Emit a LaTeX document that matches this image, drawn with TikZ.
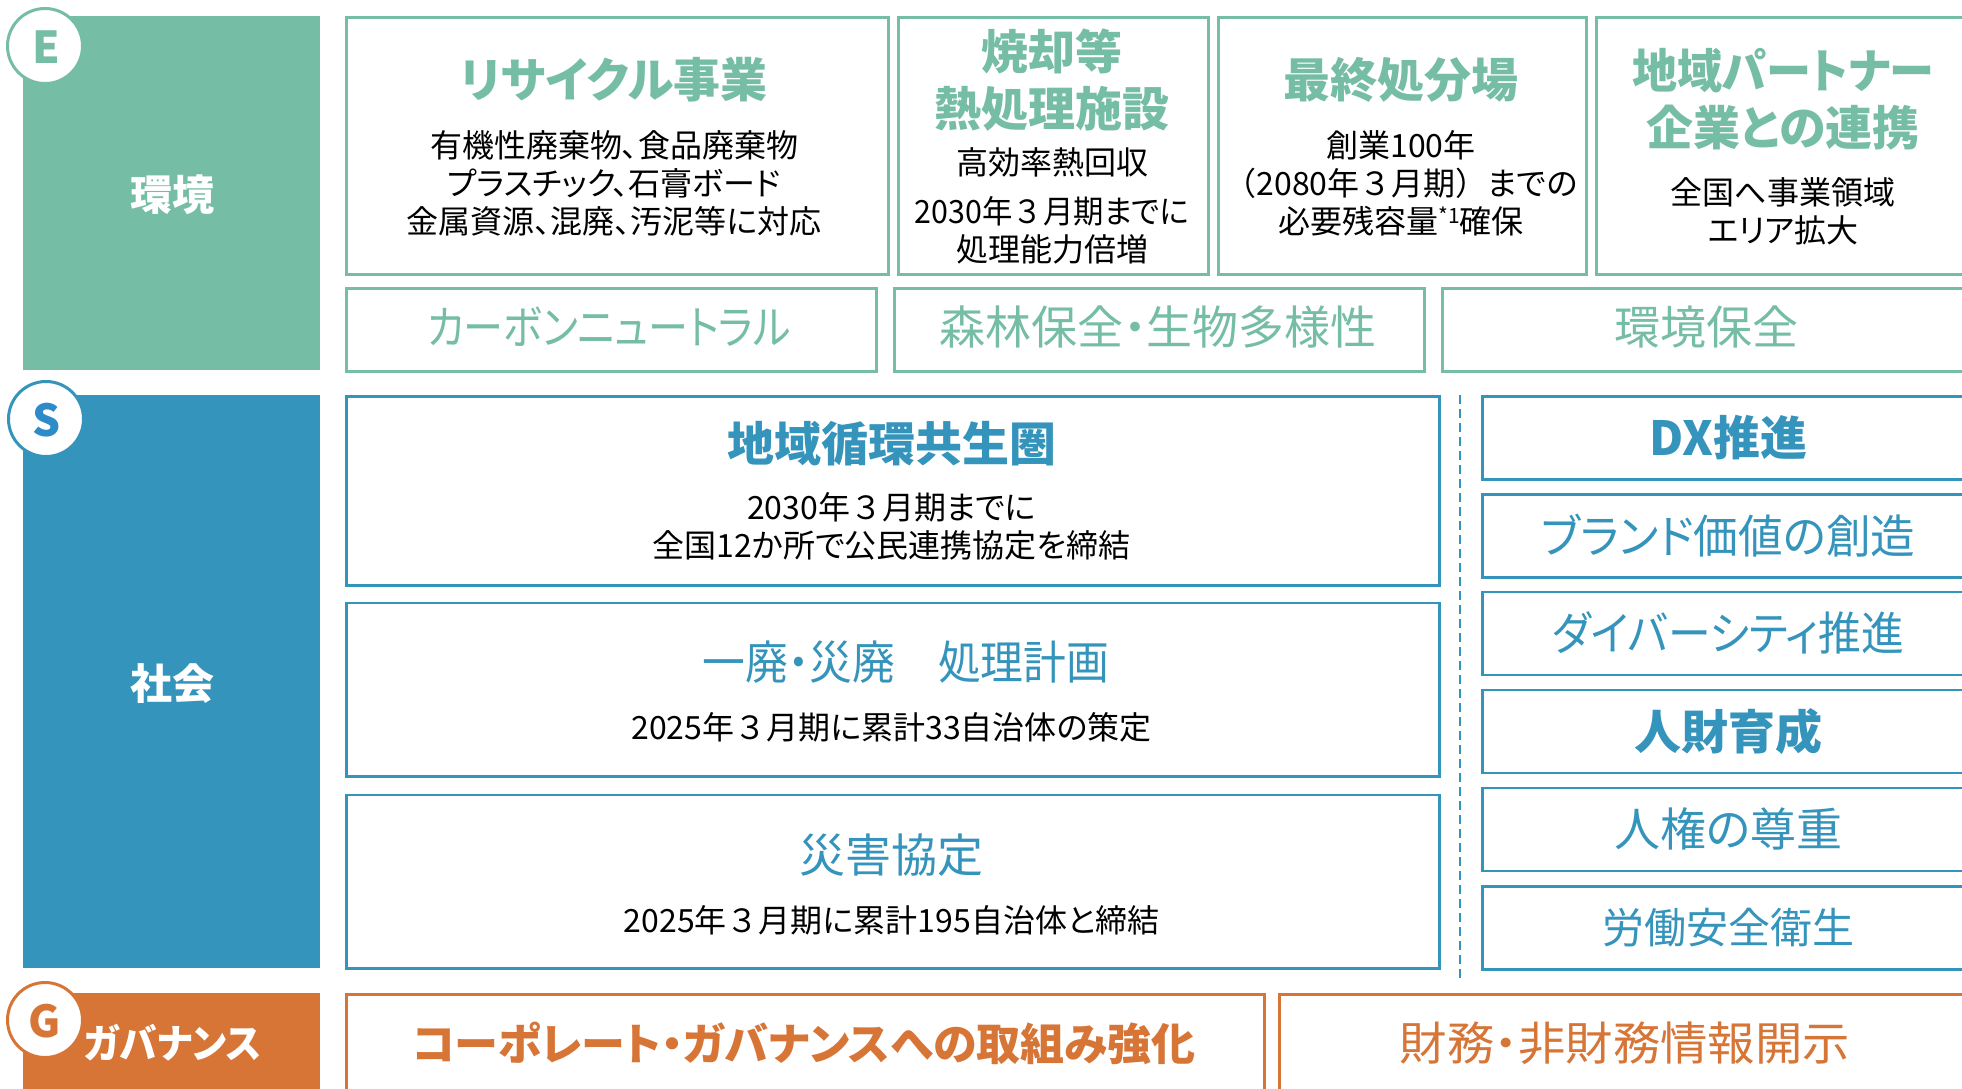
\documentclass[tikz,border=0pt]{standalone}
\usepackage{fontspec}
\setmainfont{Noto Sans CJK JP}[RawFeature=+palt]
\newfontfamily\fwfont{Noto Sans CJK JP}
\newcommand\fw[1]{{\fwfont #1}}
\definecolor{eg}{HTML}{76BDA6}
\definecolor{sb}{HTML}{3594BB}
\definecolor{sl}{HTML}{2E8BC9}
\definecolor{go}{HTML}{D77537}
\newcommand\fz[2]{\fontsize{#1}{#2}\selectfont}
\newcommand\sq[2]{\scalebox{#1}[1]{#2}}
\tikzset{
  frame/.style={draw=#1, line width=2.5pt, fill=white, inner sep=0pt, anchor=north west},
  band/.style={fill=#1, inner sep=0pt, anchor=north west},
  badge/.style={circle, draw=#1, line width=3pt, fill=white, minimum size=75pt, inner sep=0pt},
  badgeletter/.style={text=#1, font={\fz{44}{44}\bfseries}, inner sep=0pt, anchor=base},
  bandlabel/.style={text=white, font={\fz{42}{42}\bfseries}, inner sep=0pt},
  headB/.style={text=#1, font={\fz{47}{57}\bfseries}, align=center, inner sep=0pt},
  headR/.style={text=#1, font={\fz{46}{56}}, align=center, inner sep=0pt},
  body/.style={text=black, font={\fz{32}{38}}, align=center, inner sep=0pt},
  sep/.style={draw=sb, line width=1.5pt, dash pattern=on 9pt off 5pt}
}
\begin{document}
\begin{tikzpicture}[x=1pt,y=-1pt]
\useasboundingbox (0,0) rectangle (1962,1088);
\clip (0,0) rectangle (1962,1088);
% ---------- E ----------
\node[band=eg, minimum width=297pt, minimum height=354pt] (eband) at (23,16) {};
\node[bandlabel] (elabel) at (172,195) {環境};
\node[badge=eg] (ebadge) at (45,46) {};
\node[badgeletter=eg] (eletter) at (46,63) {E};

\node[frame=eg, minimum width=542pt, minimum height=257pt] (rec) at (345,16) {};
\node[frame=eg, minimum width=310pt, minimum height=257pt] (inc) at (897,16) {};
\node[frame=eg, minimum width=368pt, minimum height=257pt] (fin) at (1217,16) {};
\node[frame=eg, minimum width=377pt, minimum height=257pt] (par) at (1595,16) {};
\node[frame=eg, minimum width=530pt, minimum height=83pt] (cn) at (345,287) {};
\node[frame=eg, minimum width=530pt, minimum height=83pt] (fo) at (893,287) {};
\node[frame=eg, minimum width=531pt, minimum height=83pt] (kh) at (1441,287) {};

\node[headB=eg] (recH) at (614,80) {リサイクル事業};
\node[body] (recB) at (614,183) {有機性廃棄物、食品廃棄物\\プラスチック、石膏ボード\\金属資源、混廃、汚泥等に対応};
\node[headB=eg] (incH) at (1052,80) {焼却等\\熱処理施設};
\node[body] (incB1) at (1052,162) {高効率熱回収};
\node[body] (incB2) at (1052,230) {\sq{0.95}{2030年\fw{３}月期までに}\\処理能力倍増};
\node[headB=eg] (finH) at (1401,80) {最終処分場};
\node[body] (finB) at (1401,183) {創業100年\\\fw{（}2080年\fw{３}月期\fw{）}までの\\必要残容量\raisebox{0.3em}{\fz{21}{21}*1}確保};
\node[headB=eg] (parH) at (1783,99) {\sq{0.96}{地域パートナー}\\企業との連携};
\node[body] (parB) at (1783,211) {全国へ事業領域\\エリア拡大};

\node[headR=eg] (cnT) at (609,327) {\sq{0.87}{カーボンニュートラル}};
\node[headR=eg] (foT) at (1158,327) {森林保全・生物多様性};
\node[headR=eg] (khT) at (1706,327) {環境保全};

% ---------- S ----------
\node[band=sb, minimum width=297pt, minimum height=573pt] (sband) at (23,395) {};
\node[bandlabel] (slabel) at (172,684) {社会};
\node[badge=sb] (sbadge) at (46,419) {};
\node[badgeletter=sl] (sletter) at (47,436) {S};

\node[frame=sb, minimum width=1093pt, minimum height=189pt] (rc) at (345,395) {};
\node[frame=sb, minimum width=1093pt, minimum height=173.5pt] (ip) at (345,601.5) {};
\node[frame=sb, minimum width=1093pt, minimum height=173.5pt] (dp) at (345,793.5) {};

\node[headB=sb] (rcH) at (891.5,444) {地域循環共生圏};
\node[body] (rcB) at (891.5,526.5) {2030年\fw{３}月期までに\\全国12か所で公民連携協定を締結};
\node[headR=sb] (ipH) at (906,662) {\sq{0.93}{一廃・災廃　処理計画}};
\node[body] (ipB) at (891.5,727) {2025年\fw{３}月期に累計33自治体の策定};
\node[headR=sb] (dpH) at (891.5,855) {災害協定};
\node[body] (dpB) at (891.5,920) {2025年\fw{３}月期に累計195自治体と締結};

\coordinate (d1) at (1460,395);
\coordinate (d2) at (1460,978);
\draw[sep] (d1) -- (d2);

\node[frame=sb, minimum width=492pt, minimum height=83pt] (r1) at (1481,395) {};
\node[frame=sb, minimum width=492pt, minimum height=83pt] (r2) at (1481,493) {};
\node[frame=sb, minimum width=492pt, minimum height=83pt] (r3) at (1481,590.5) {};
\node[frame=sb, minimum width=492pt, minimum height=83pt] (r4) at (1481,688.5) {};
\node[frame=sb, minimum width=492pt, minimum height=83pt] (r5) at (1481,786.5) {};
\node[frame=sb, minimum width=492pt, minimum height=83pt] (r6) at (1481,885) {};
\node[headB=sb] (r1T) at (r1.center) {DX推進};
\node[headR=sb] (r2T) at (r2.center) {\sq{0.97}{ブランド価値の創造}};
\node[headR=sb] (r3T) at (r3.center) {\sq{0.93}{ダイバーシティ推進}};
\node[headB=sb] (r4T) at (r4.center) {人財育成};
\node[headR=sb] (r5T) at (r5.center) {人権の尊重};
\node[headR=sb, font={\fz{42}{50}}] (r6T) at (r6.center) {労働安全衛生};

% ---------- G ----------
\node[band=go, minimum width=297pt, minimum height=110pt] (gband) at (23,993) {};
\node[bandlabel, font={\fz{40}{40}\bfseries}] (glabel) at (173,1043) {\sq{0.94}{ガバナンス}};
\node[badge=go] (gbadge) at (45,1020) {};
\node[badgeletter=go] (gletter) at (45,1037) {G};

\node[frame=go, minimum width=918pt, minimum height=110pt] (corp) at (345,993) {};
\node[frame=go, minimum width=694pt, minimum height=110pt] (disc) at (1278,993) {};
\node[headB=go, font={\fz{44}{50}\bfseries}] (corpT) at (804,1043) {コーポレート・ガバナンスへの取組み強化};
\node[headR=go] (discT) at (1625,1043) {\sq{1.03}{財務・非財務情報開示}};
\end{tikzpicture}
\end{document}
